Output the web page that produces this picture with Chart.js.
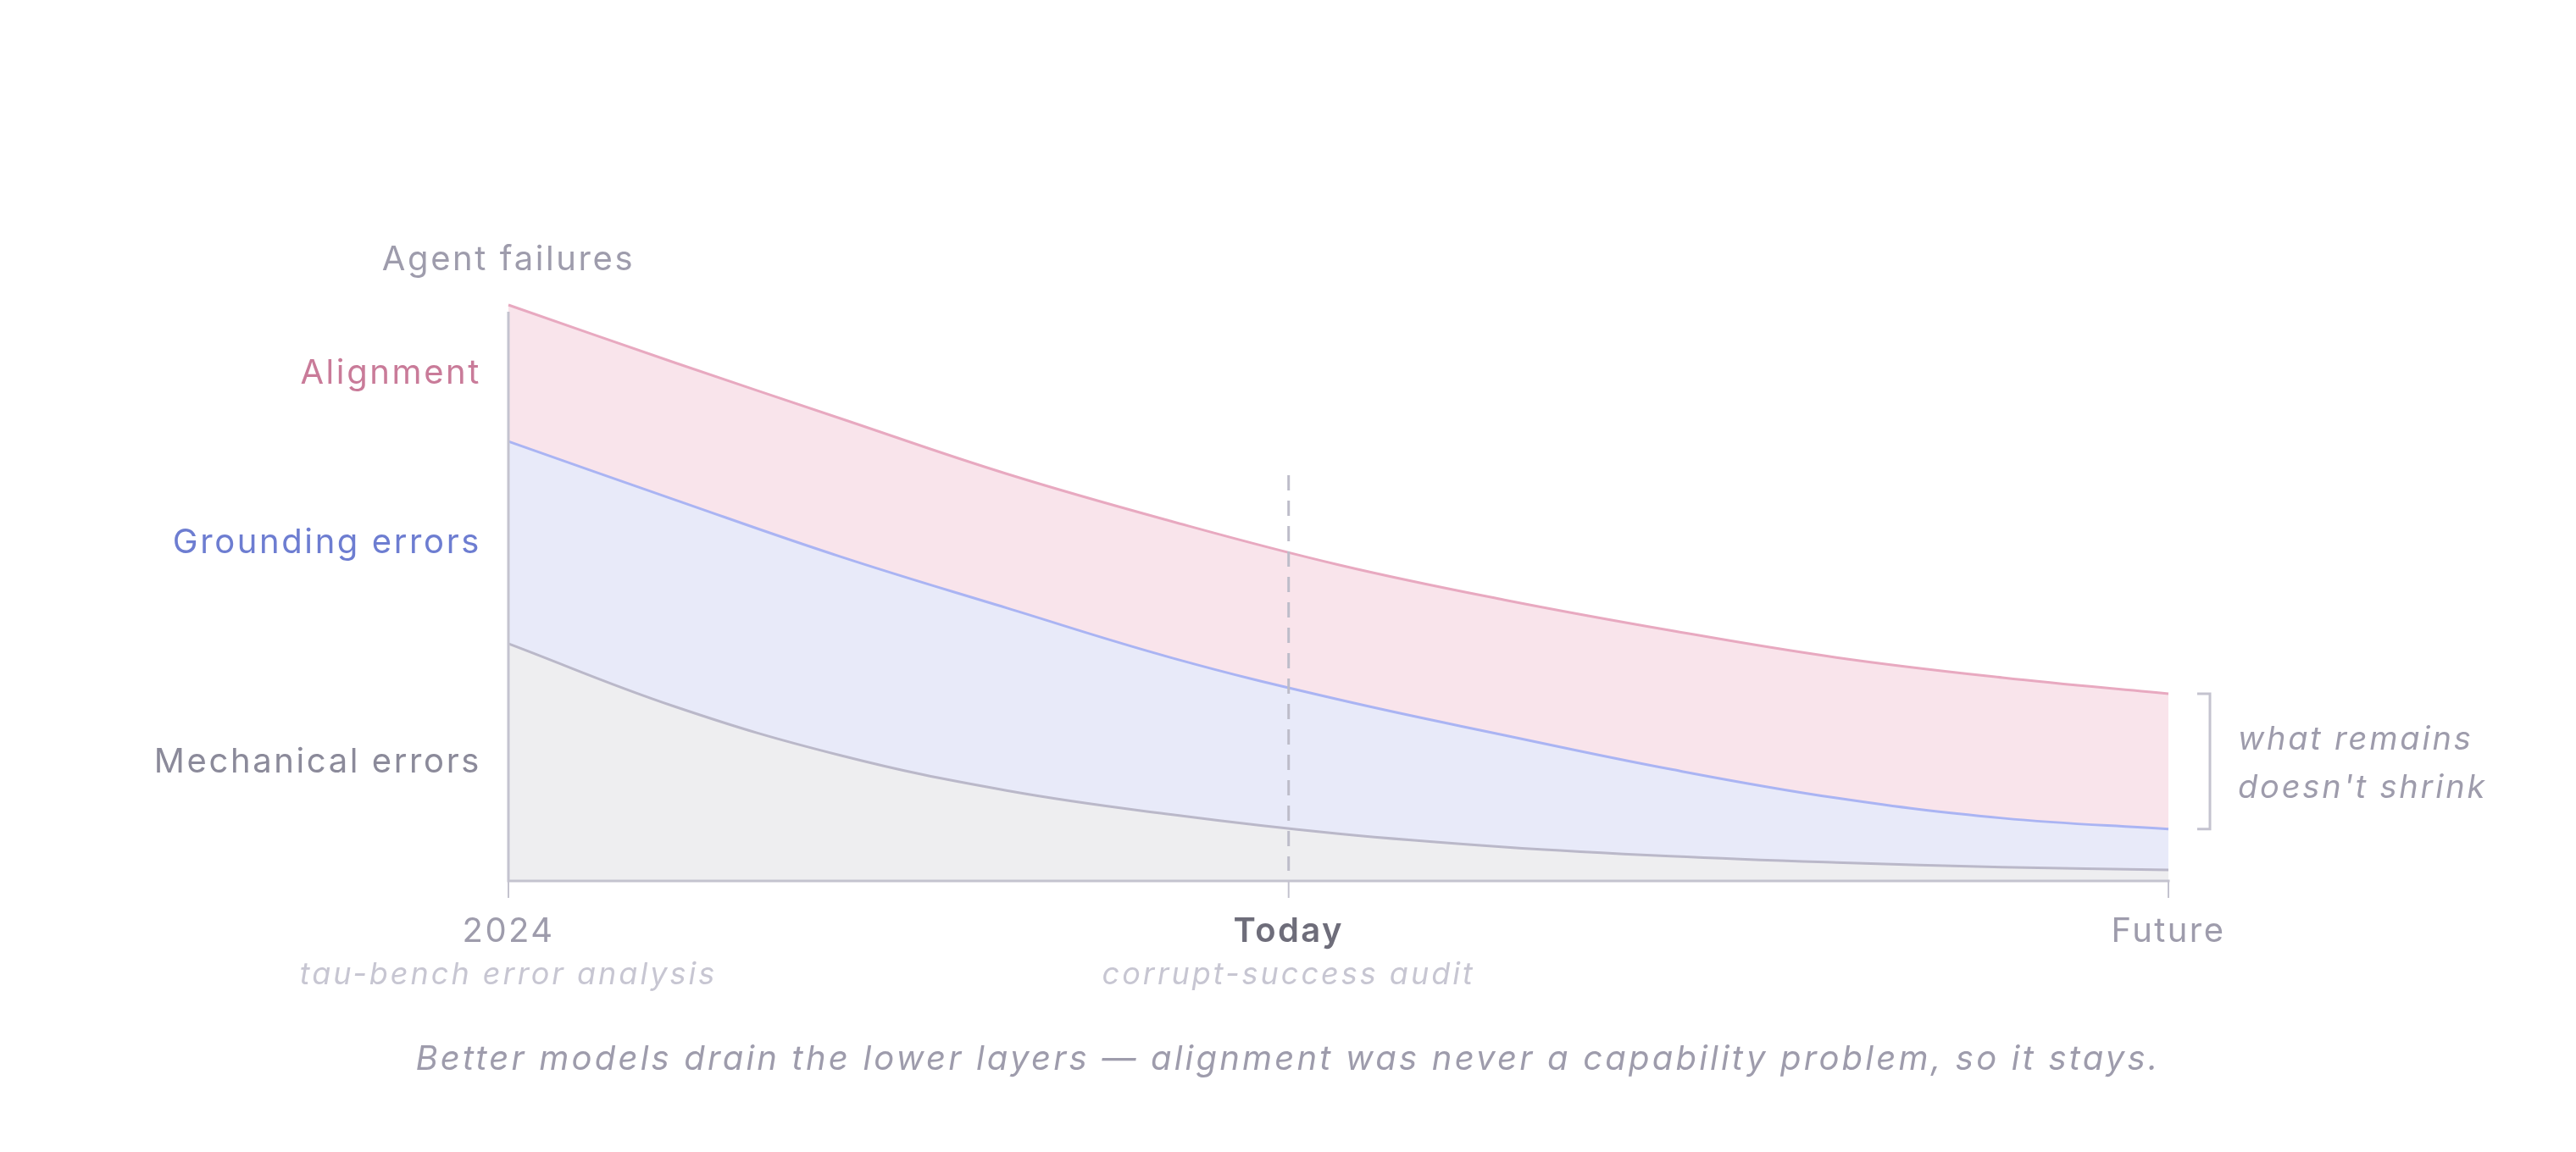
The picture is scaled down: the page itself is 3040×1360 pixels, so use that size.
<!DOCTYPE html>
<html>
<head>
<meta charset="utf-8">
<title>Agent failures</title>
<script src="https://cdn.jsdelivr.net/npm/chart.js@4.4.1/dist/chart.umd.min.js"></script>
<style>
  html, body { margin: 0; padding: 0; background: #ffffff; }
  #wrap { width: 3040px; height: 1360px; }
</style>
</head>
<body>
<div id="wrap"><canvas id="chart" width="3040" height="1360"></canvas></div>
<script>
// Data (x: 0 = 2024, 1 = future)
const xPos = [0, 0.1, 0.2, 0.3, 0.4, 0.5, 0.6, 0.7, 0.8, 0.9, 1];
const mechanical = [41.2, 30.3, 21.8, 15.7, 11.5, 8.2, 5.9, 4.3, 3.2, 2.4, 1.9];
const grounding = [35.1, 35.9, 34.5, 31.7, 27.2, 23.3, 19.4, 15.1, 11.2, 8.5, 7.1];
const alignment = [23.7, 23.8, 24.0, 23.3, 23.7, 23.4, 23.5, 24.1, 24.4, 24.4, 23.5];

const seriesNames = ["Mechanical errors", "Grounding errors", "Alignment"];
const tickValues = [0, 0.47, 1];
const tickLabels = ["2024", "Today", "Future"];
const tickNotes = ["tau-bench error analysis", "corrupt-success audit", ""];
const yTitle = "Agent failures";
const sideNote = ["what remains", "doesn't shrink"];
const caption = "Better models drain the lower layers \u2014 alignment was never a capability problem, so it stays.";

const FONT = "Inter, 'Open Sans', sans-serif";
const AXIS = "#c4c3cf";

const toPoints = (vals) => vals.map((v, i) => ({ x: xPos[i], y: v }));

// font + spacing helper, the original face is wider than Inter
function setFont(ctx, font, spacing) {
  ctx.font = font;
  if ("letterSpacing" in ctx) ctx.letterSpacing = spacing + "px";
}

// labels, axes, dashed marker and bracket
const overlay = {
  id: "overlay",
  afterDatasetsDraw(chart) {
    const { ctx, chartArea: a, scales } = chart;
    const x = scales.x, y = scales.y;
    ctx.save();

    // today marker
    const tx = x.getPixelForValue(tickValues[1]);
    ctx.strokeStyle = "#bdbcc9";
    ctx.lineWidth = 3;
    ctx.setLineDash([18, 12]);
    ctx.beginPath();
    ctx.moveTo(tx, a.top + 201);
    ctx.lineTo(tx, a.bottom - 12);
    ctx.stroke();
    ctx.setLineDash([]);

    // axes
    ctx.strokeStyle = AXIS;
    ctx.lineWidth = 3;
    ctx.beginPath();
    ctx.moveTo(a.left, a.top + 8);
    ctx.lineTo(a.left, a.bottom);
    ctx.moveTo(a.left - 1.5, a.bottom);
    ctx.lineTo(a.right + 1.5, a.bottom);
    ctx.stroke();
    ctx.lineWidth = 2;
    tickValues.forEach((v) => {
      const px = x.getPixelForValue(v);
      ctx.beginPath();
      ctx.moveTo(px, a.bottom);
      ctx.lineTo(px, a.bottom + 20);
      ctx.stroke();
    });

    // bracket on the remaining alignment band
    const last = xPos.length - 1;
    const bTop = y.getPixelForValue(mechanical[last] + grounding[last] + alignment[last]);
    const bBot = y.getPixelForValue(mechanical[last] + grounding[last]);
    const bx = a.right + 49;
    ctx.lineWidth = 3;
    ctx.strokeStyle = AXIS;
    ctx.beginPath();
    ctx.moveTo(bx - 15, bTop);
    ctx.lineTo(bx, bTop);
    ctx.lineTo(bx, bBot);
    ctx.lineTo(bx - 15, bBot);
    ctx.stroke();

    const mid = (bTop + bBot) / 2;
    ctx.fillStyle = "#9e9cac";
    setFont(ctx, "italic 38px " + FONT, 2.8);
    ctx.textAlign = "left";
    ctx.textBaseline = "alphabetic";
    ctx.fillText(sideNote[0], a.right + 82, mid - 14);
    ctx.fillText(sideNote[1], a.right + 82, mid + 43);

    // y title
    ctx.textAlign = "center";
    setFont(ctx, "40px " + FONT, 2.6);
    ctx.fillStyle = "#9e9cac";
    ctx.fillText(yTitle, a.left, a.top - 41);

    // layer names, centred on each band at the first point
    const layerColors = ["#8b8a9a", "#6d7dd1", "#c97b99"];
    const layers = [mechanical, grounding, alignment];
    let base = 0;
    ctx.textAlign = "right";
    ctx.textBaseline = "middle";
    layers.forEach((vals, i) => {
      const midVal = base + vals[0] / 2;
      base += vals[0];
      ctx.fillStyle = layerColors[i];
      ctx.fillText(seriesNames[i], a.left - 32, y.getPixelForValue(midVal));
    });

    // x labels
    ctx.textAlign = "center";
    ctx.textBaseline = "alphabetic";
    tickValues.forEach((v, i) => {
      const px = x.getPixelForValue(v);
      const isToday = i === 1;
      setFont(ctx, (isToday ? "600 " : "") + "40px " + FONT, 2.4);
      ctx.fillStyle = isToday ? "#6e6d7a" : "#9e9cac";
      ctx.fillText(tickLabels[i], px, a.bottom + 72);
      if (tickNotes[i]) {
        setFont(ctx, "italic 36px " + FONT, 3);
        ctx.fillStyle = "#c7c6d2";
        ctx.fillText(tickNotes[i], px, a.bottom + 122);
      }
    });

    // caption
    setFont(ctx, "italic 40px " + FONT, 3.2);
    ctx.fillStyle = "#9e9cac";
    ctx.fillText(caption, chart.width / 2, a.bottom + 223);

    ctx.restore();
  }
};

new Chart(document.getElementById("chart"), {
  type: "line",
  data: {
    datasets: [
      {
        label: seriesNames[0],
        data: toPoints(mechanical),
        borderColor: "#bab8c9",
        backgroundColor: "#eeeef0",
        fill: "origin",
      },
      {
        label: seriesNames[1],
        data: toPoints(grounding),
        borderColor: "#aab4f3",
        backgroundColor: "#e8eaf9",
        fill: "-1",
      },
      {
        label: seriesNames[2],
        data: toPoints(alignment),
        borderColor: "#e8a9c0",
        backgroundColor: "#f9e4eb",
        fill: "-1",
      },
    ],
  },
  options: {
    responsive: false,
    animation: false,
    devicePixelRatio: 1,
    layout: { padding: { left: 600, right: 481, top: 360, bottom: 320 } },
    elements: {
      line: { borderWidth: 3, tension: 0.4 },
      point: { radius: 0 },
    },
    datasets: { line: { clip: false } },
    scales: {
      x: { type: "linear", min: 0, max: 1, display: false },
      y: { stacked: true, min: 0, max: 100, display: false },
    },
    plugins: {
      legend: { display: false },
      tooltip: { enabled: false },
    },
  },
  plugins: [overlay],
});
</script>
</body>
</html>
